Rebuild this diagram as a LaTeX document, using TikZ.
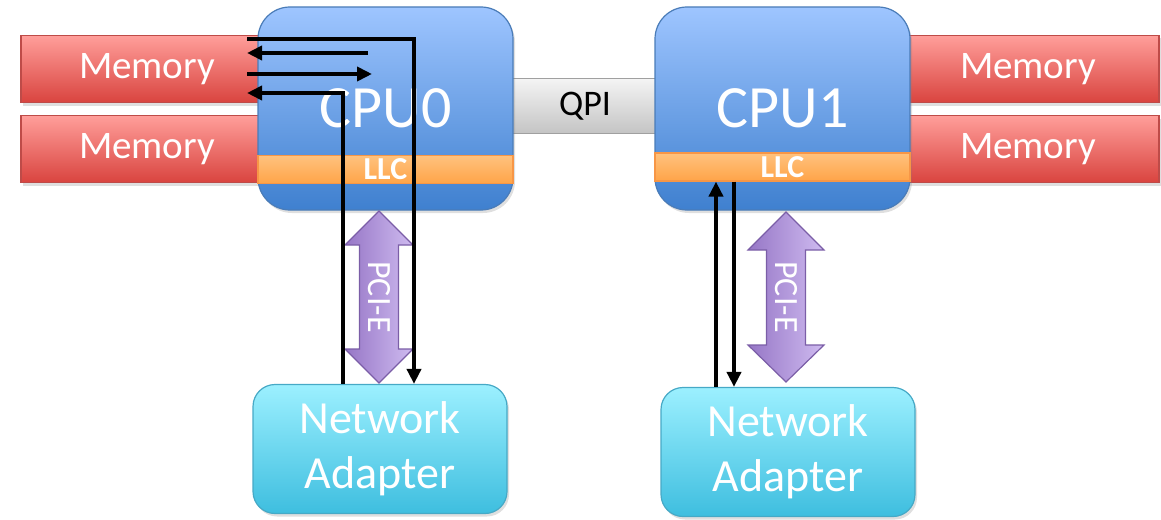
\documentclass[tikz,border=0pt]{standalone}
\usepackage{fontspec}
\setmainfont{Carlito}
\usetikzlibrary{arrows.meta,shadows}
\definecolor{cputop}{HTML}{9EC5FF}
\definecolor{cpubot}{HTML}{3F80CF}
\definecolor{cpuline}{HTML}{4A7CB8}
\definecolor{memtop}{HTML}{FF9E9A}
\definecolor{membot}{HTML}{D9443F}
\definecolor{memline}{HTML}{BE4B48}
\definecolor{llctop}{HTML}{FFC27E}
\definecolor{llcbot}{HTML}{FFA448}
\definecolor{llcline}{HTML}{F79646}
\definecolor{qpitop}{HTML}{F4F4F4}
\definecolor{qpibot}{HTML}{C4C4C4}
\definecolor{qpiline}{HTML}{A0A0A0}
\definecolor{nictop}{HTML}{9CF0FF}
\definecolor{nicbot}{HTML}{3EBEDF}
\definecolor{nicline}{HTML}{46A9C6}
\definecolor{pcidark}{HTML}{9676C6}
\definecolor{pcilight}{HTML}{CFBBF0}
\definecolor{pciline}{HTML}{7B5EA7}
\tikzset{
  membox/.style={draw=memline, line width=1.2pt, top color=memtop, bottom color=membot,
    minimum width=252pt, minimum height=67pt, inner sep=0pt, text=white,
    font=\fontsize{39}{47}\selectfont,
    drop shadow={opacity=0.25, shadow xshift=2pt, shadow yshift=-3pt}},
  cpubox/.style={draw=cpuline, line width=1.2pt, top color=cputop, bottom color=cpubot,
    rounded corners=32pt, minimum width=255pt, minimum height=203pt, inner sep=0pt,
    text=white, font=\fontsize{60}{72}\selectfont,
    drop shadow={opacity=0.25, shadow xshift=2pt, shadow yshift=-3pt}},
  llcbar/.style={draw=llcline, line width=1.2pt, top color=llctop, bottom color=llcbot,
    minimum width=255pt, minimum height=28pt, inner sep=0pt, text=white,
    font=\fontsize{32}{36}\selectfont\bfseries},
  qpibar/.style={draw=qpiline, line width=1pt, top color=qpitop, bottom color=qpibot,
    minimum width=190pt, minimum height=55pt, inner sep=0pt,
    font=\fontsize{36}{40}\selectfont},
  nicbox/.style={draw=nicline, line width=1.2pt, top color=nictop, bottom color=nicbot,
    rounded corners=22pt, minimum width=254pt, minimum height=129pt, inner sep=0pt,
    text=white, align=center, font=\fontsize{46}{55}\selectfont,
    drop shadow={opacity=0.25, shadow xshift=2pt, shadow yshift=-3pt}},
  pcishape/.style={draw=pciline, line width=1.2pt, left color=pcidark, right color=pcilight},
  pcitext/.style={rotate=-90, text=white, inner sep=0pt, font=\fontsize{34}{40}\selectfont},
  flowarrow/.style={line width=4pt, -{Triangle[length=15pt,width=14pt]}},
}
\begin{document}
\begin{tikzpicture}[x=1pt,y=-1pt]
\useasboundingbox (0,0) rectangle (1161,519);
% memory and QPI first, they sit behind the CPUs
\node[membox] (mem0a) at (147,69) {Memory};
\node[membox] (mem0b) at (147,149) {Memory};
\node[membox, minimum width=262pt] (mem1a) at (1028,69) {Memory};
\node[membox, minimum width=262pt] (mem1b) at (1028,149) {Memory};
\node[qpibar] (qpi) at (585,106) {QPI};
% the two sockets
\node[cpubox] (cpu0) at (385.5,108.5) {CPU0};
\node[cpubox] (cpu1) at (782.5,108.5) {CPU1};
\node[llcbar] (llc0) at (385.5,169.5) {LLC};
\node[llcbar] (llc1) at (782.5,167) {LLC};
% network adapters
\node[nicbox] (nic0) at (380,449) {Network\\Adapter};
\node[nicbox] (nic1) at (788,452) {Network\\Adapter};
% PCI-E links (block double arrows)
\coordinate (pc0) at (379,297);
\coordinate (pc1) at (786,297);
\shade[pcishape] (pc0) ++(0,-86) -- ++(34,34) -- ++(-14.5,0) -- ++(0,104) -- ++(14.5,0)
  -- ++(-34,34) -- ++(-34,-34) -- ++(14.5,0) -- ++(0,-104) -- ++(-14.5,0) -- cycle;
\shade[pcishape] (pc1) ++(0,-85) -- ++(38,38) -- ++(-18.5,0) -- ++(0,95) -- ++(18.5,0)
  -- ++(-38,37) -- ++(-38,-37) -- ++(18.5,0) -- ++(0,-95) -- ++(-18.5,0) -- cycle;
\node[pcitext] (pci0) at (pc0) {PCI-E};
\node[pcitext] (pci1) at (pc1) {PCI-E};
% data paths, socket 0
\coordinate (mr0) at (247,39);
\coordinate (mr1) at (368,53);
\coordinate (mr2) at (247,74);
\coordinate (mr3) at (247,93);
\draw[flowarrow] (mr0) -| ([xshift=34pt]nic0.north);
\draw[flowarrow] (mr1) -- (mr1 -| mr0);
\draw[flowarrow] (mr2) -- ++(125,0);
\draw[flowarrow] ([xshift=-37pt]nic0.north) |- (mr3);
% data paths, socket 1
\draw[flowarrow] ([xshift=-72pt]nic1.north) -- ([xshift=-72pt]nic1.north |- llc1.south);
\draw[flowarrow] ([xshift=-54pt]nic1.north |- llc1.south) -- ([xshift=-54pt]nic1.north);
\end{tikzpicture}
\end{document}
